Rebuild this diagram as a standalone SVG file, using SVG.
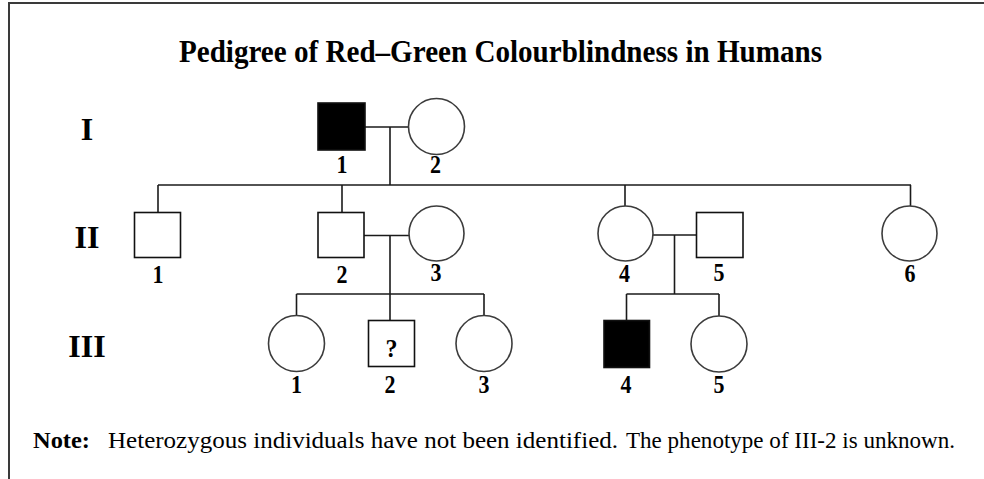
<svg xmlns="http://www.w3.org/2000/svg" width="984" height="479" viewBox="0 0 984 479">
<style>
  .bg { fill: #ffffff; }
  .border { stroke: #3a3a3a; stroke-width: 2; fill: none; }
  .line { stroke: #1a1a1a; stroke-width: 1.6; fill: none; }
  .sq { fill: #ffffff; stroke: #111111; stroke-width: 1.6; }
  .aff { fill: #000000; stroke: #111111; stroke-width: 1.6; }
  .ci { fill: #ffffff; stroke: #3c3c3c; stroke-width: 1.6; }
  .title { font-family: "Liberation Serif", "Times New Roman", serif; font-weight: bold; font-size: 31px; fill: #000; }
  .gen { font-family: "Liberation Serif", "Times New Roman", serif; font-weight: bold; font-size: 32px; fill: #000; text-anchor: middle; }
  .num { font-family: "Liberation Serif", "Times New Roman", serif; font-weight: bold; font-size: 26px; fill: #000; text-anchor: middle; }
  .note { font-family: "Liberation Serif", "Times New Roman", serif; font-size: 24px; fill: #000; }
  .noteb { font-family: "Liberation Serif", "Times New Roman", serif; font-weight: bold; font-size: 24px; fill: #000; }
</style>
<rect class="bg" x="0" y="0" width="984" height="479"/>
<path class="border" d="M9,479 V3 H984"/>

<text class="title" x="500.5" y="62" text-anchor="middle" textLength="643" lengthAdjust="spacingAndGlyphs">Pedigree of Red–Green Colourblindness in Humans</text>

<g id="generation-labels">
  <text class="gen" x="87" y="140">I</text>
  <text class="gen" x="87" y="248">II</text>
  <text class="gen" x="87" y="357">III</text>
</g>

<g id="connectors">
  <path class="line" d="M365,127 H409"/>
  <path class="line" d="M390,127 V185"/>
  <path class="line" d="M158,185 H911"/>
  <path class="line" d="M158,185 V212.5"/>
  <path class="line" d="M342,185 V212.5"/>
  <path class="line" d="M625,185 V206"/>
  <path class="line" d="M910.5,185 V206"/>
  <path class="line" d="M364,235.5 H409"/>
  <path class="line" d="M390,235.5 V320.5"/>
  <path class="line" d="M296.5,294 H484"/>
  <path class="line" d="M296.5,294 V316"/>
  <path class="line" d="M484,294 V316"/>
  <path class="line" d="M653,235 H696"/>
  <path class="line" d="M674.5,235 V294"/>
  <path class="line" d="M626.5,294 H719"/>
  <path class="line" d="M626.5,294 V320"/>
  <path class="line" d="M719,294 V316"/>
</g>

<g id="I-1"><rect class="aff" x="318" y="103" width="47" height="47"/><text class="num" x="342" y="173" textLength="11" lengthAdjust="spacingAndGlyphs">1</text></g>
<g id="I-2"><circle class="ci" cx="436.5" cy="126.5" r="28"/><text class="num" x="435.5" y="173" textLength="11" lengthAdjust="spacingAndGlyphs">2</text></g>

<g id="II-1"><rect class="sq" x="134.5" y="212.5" width="46" height="45"/><text class="num" x="158" y="283" textLength="11" lengthAdjust="spacingAndGlyphs">1</text></g>
<g id="II-2"><rect class="sq" x="318" y="212.5" width="46" height="45"/><text class="num" x="342" y="283" textLength="11" lengthAdjust="spacingAndGlyphs">2</text></g>
<g id="II-3"><circle class="ci" cx="436.5" cy="233.5" r="27.5"/><text class="num" x="436" y="281" textLength="11" lengthAdjust="spacingAndGlyphs">3</text></g>
<g id="II-4"><circle class="ci" cx="625.5" cy="233.5" r="27.5"/><text class="num" x="624.5" y="282" textLength="11" lengthAdjust="spacingAndGlyphs">4</text></g>
<g id="II-5"><rect class="sq" x="696.5" y="212.5" width="46.5" height="45"/><text class="num" x="719" y="281" textLength="11" lengthAdjust="spacingAndGlyphs">5</text></g>
<g id="II-6"><circle class="ci" cx="909.5" cy="233.5" r="27.5"/><text class="num" x="910" y="282" textLength="11" lengthAdjust="spacingAndGlyphs">6</text></g>

<g id="III-1"><circle class="ci" cx="296.5" cy="343.5" r="28"/><text class="num" x="296.5" y="393" textLength="11" lengthAdjust="spacingAndGlyphs">1</text></g>
<g id="III-2"><rect class="sq" x="368.5" y="320.5" width="46" height="46"/><text class="num" x="391.5" y="357" font-size="30" textLength="12" lengthAdjust="spacingAndGlyphs">?</text><text class="num" x="390" y="393" textLength="11" lengthAdjust="spacingAndGlyphs">2</text></g>
<g id="III-3"><circle class="ci" cx="484" cy="343.5" r="28"/><text class="num" x="484" y="393" textLength="11" lengthAdjust="spacingAndGlyphs">3</text></g>
<g id="III-4"><rect class="aff" x="604" y="320.5" width="45.5" height="47"/><text class="num" x="626" y="393" textLength="11" lengthAdjust="spacingAndGlyphs">4</text></g>
<g id="III-5"><circle class="ci" cx="719" cy="344" r="28"/><text class="num" x="719" y="393" textLength="11" lengthAdjust="spacingAndGlyphs">5</text></g>

<g id="note">
  <text class="noteb" x="33" y="448" textLength="57" lengthAdjust="spacingAndGlyphs">Note:</text>
  <text class="note" x="108" y="448" textLength="510" lengthAdjust="spacingAndGlyphs">Heterozygous individuals have not been identified.</text>
  <text class="note" x="626" y="448" textLength="329" lengthAdjust="spacingAndGlyphs">The phenotype of III-2 is unknown.</text>
</g>
</svg>
